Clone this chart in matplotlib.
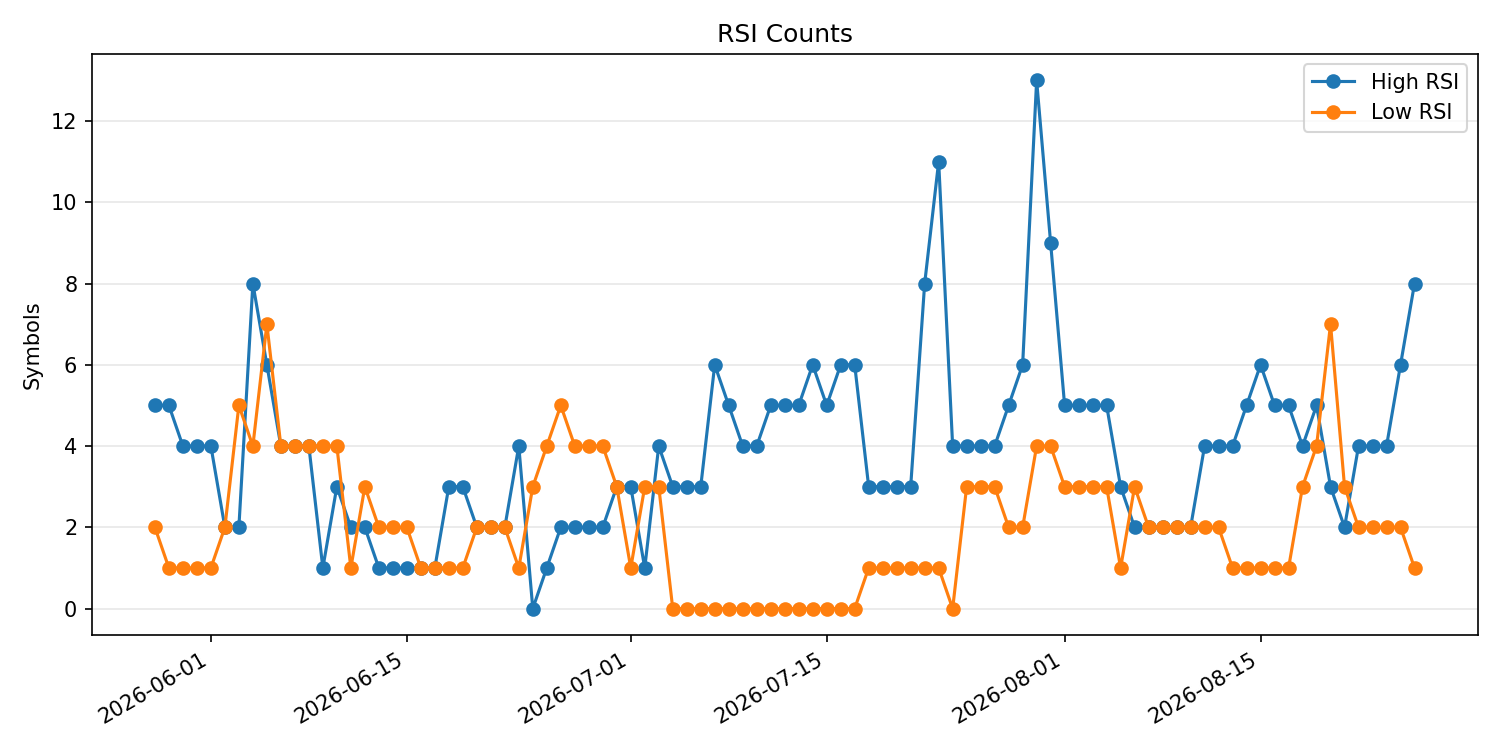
import matplotlib
matplotlib.use('Agg')
import matplotlib.pyplot as plt
import numpy as np
import pandas as pd

dates = pd.date_range('2026-05-28', '2026-08-26', freq='D')

high_rsi = [5, 5, 4, 4, 4, 2, 2, 8, 6, 4, 4, 4, 1, 3, 2, 2, 1, 1, 1, 1,
            1, 3, 3, 2, 2, 2, 4, 0, 1, 2, 2, 2, 2, 3, 3, 1, 4, 3, 3, 3,
            6, 5, 4, 4, 5, 5, 5, 6, 5, 6, 6, 3, 3, 3, 3, 8, 11, 4, 4, 4,
            4, 5, 6, 13, 9, 5, 5, 5, 5, 3, 2, 2, 2, 2, 2, 4, 4, 4, 5, 6,
            5, 5, 4, 5, 3, 2, 4, 4, 4, 6, 8]

low_rsi = [2, 1, 1, 1, 1, 2, 5, 4, 7, 4, 4, 4, 4, 4, 1, 3, 2, 2, 2, 1,
           1, 1, 1, 2, 2, 2, 1, 3, 4, 5, 4, 4, 4, 3, 1, 3, 3, 0, 0, 0,
           0, 0, 0, 0, 0, 0, 0, 0, 0, 0, 0, 1, 1, 1, 1, 1, 1, 0, 3, 3,
           3, 2, 2, 4, 4, 3, 3, 3, 3, 1, 3, 2, 2, 2, 2, 2, 2, 1, 1, 1,
           1, 1, 3, 4, 7, 3, 2, 2, 2, 2, 1]

fig, ax = plt.subplots(figsize=(10, 5), dpi=150)
ax.plot(dates, high_rsi, marker='o', label='High RSI')
ax.plot(dates, low_rsi, marker='o', label='Low RSI')

ax.set_title('RSI Counts')
ax.set_ylabel('Symbols')
ax.grid(axis='y', alpha=0.3)
ax.legend(loc='upper right')
fig.autofmt_xdate()
fig.tight_layout()
fig.savefig('out.png')
